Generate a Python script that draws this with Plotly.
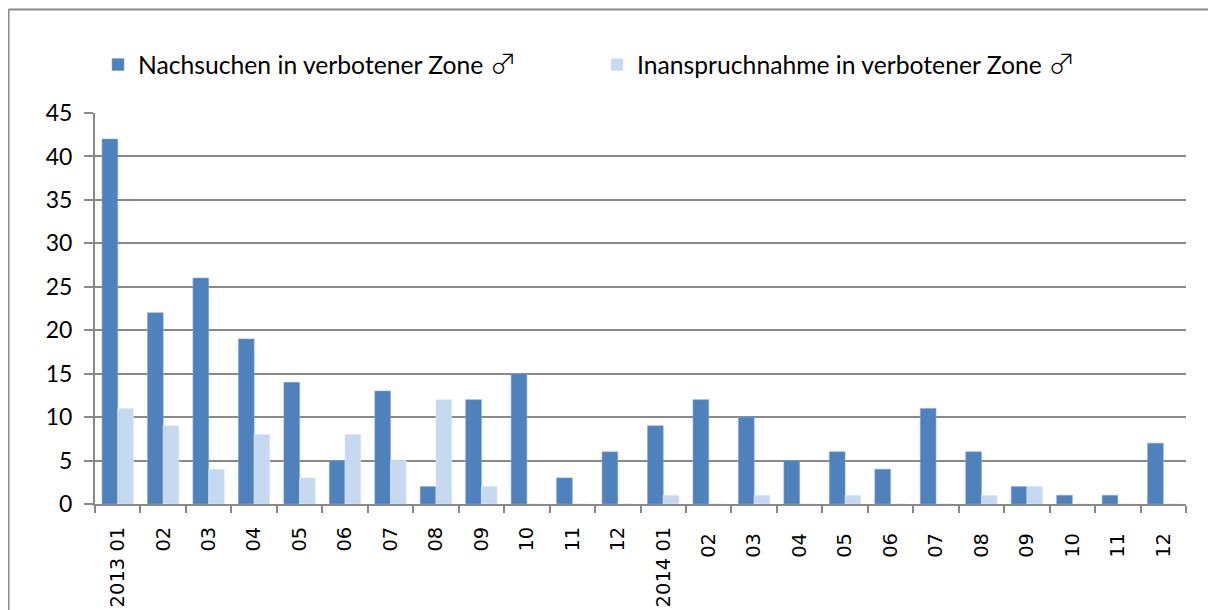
import plotly.graph_objects as go

categories = ["2013 01", "02", "03", "04", "05", "06", "07", "08", "09", "10", "11", "12",
              "2014 01", "02 ", "03 ", "04 ", "05 ", "06 ", "07 ", "08 ", "09 ", "10 ", "11 ", "12 "]
nachsuchen = [42, 22, 26, 19, 14, 5, 13, 2, 12, 15, 3, 6,
              9, 12, 10, 5, 6, 4, 11, 6, 2, 1, 1, 7]
inanspruchnahme = [11, 9, 4, 8, 3, 8, 5, 12, 2, 0, 0, 0,
                   1, 0, 1, 0, 1, 0, 0, 1, 2, 0, 0, 0]
MALE = '<span style="font-family:\'Noto Sans CJK JP\';font-weight:300;font-size:27px">\u2642</span>'
series_names = ["Nachsuchen in verbotener Zone " + MALE,
                "Inanspruchnahme in verbotener Zone " + MALE]
y_ticks = [0, 5, 10, 15, 20, 25, 30, 35, 40, 45]

DARK = "#4F81BD"
LIGHT = "#C6D9F1"
GRAY = "#898989"
FONT = "Lato"

# page body has an 8px margin, so the figure is 8px smaller in each direction
W, H = 1208, 602
ML, MR, MT, MB = 87, 30, 105, 106
pw = W - ML - MR
ph = H - MT - MB

def px_x(p):
    return (p - ML) / pw

def px_y(p):
    return (H - MB - p) / ph

fig = go.Figure()
fig.add_trace(go.Bar(x=categories, y=nachsuchen, name=series_names[0],
                     marker=dict(color=DARK, line=dict(width=0.6, color="#7FA3D0")),
                     legend="legend", showlegend=True))
fig.add_trace(go.Bar(x=categories, y=inanspruchnahme, name=series_names[1],
                     marker=dict(color=LIGHT, line=dict(width=0.6, color="#DCE7F6")),
                     legend="legend2", showlegend=True))

# outer chart frame (top and left edges visible)
fig.add_shape(type="line", xref="paper", yref="paper",
              x0=px_x(0.5), x1=px_x(1240), y0=px_y(1.5), y1=px_y(1.5),
              line=dict(color=GRAY, width=2))
fig.add_shape(type="line", xref="paper", yref="paper",
              x0=px_x(0.5), x1=px_x(0.5), y0=px_y(1.5), y1=px_y(640),
              line=dict(color=GRAY, width=2))

legend_common = dict(orientation="h", xref="container", yref="container",
                     xanchor="left", yanchor="middle",
                     font=dict(family=FONT, size=24.7, color="#000000"),
                     bgcolor="rgba(0,0,0,0)", borderwidth=0)

fig.update_layout(
    width=W, height=H, showlegend=True,
    margin=dict(l=ML, r=MR, t=MT, b=MB, autoexpand=False),
    paper_bgcolor="white", plot_bgcolor="white",
    barmode="group", bargap=0.31, bargroupgap=0,
    font=dict(family=FONT, color="#000000"),
    legend=dict(x=90 / W, y=1 - 57 / H, **legend_common),
    legend2=dict(x=589 / W, y=1 - 57 / H, **legend_common),
    xaxis=dict(
        type="category", categoryorder="array", categoryarray=categories,
        tickson="boundaries", ticks="outside", ticklen=7, tickcolor=GRAY, tickwidth=1.5,
        showline=True, linecolor=GRAY, linewidth=2, showgrid=False,
        tickangle=-90, tickfont=dict(family="DejaVu Sans", size=19.5, color="#000000"),
        ticklabelstandoff=13,
    ),
    yaxis=dict(
        range=[0, 45], tickvals=y_ticks, ticktext=[str(v) for v in y_ticks],
        showgrid=True, gridcolor=GRAY, gridwidth=1.6,
        showline=True, linecolor=GRAY, linewidth=2,
        ticks="outside", ticklen=9, tickcolor=GRAY, tickwidth=1.6,
        tickfont=dict(family=FONT, size=23, color="#000000"),
        ticklabelstandoff=7, zeroline=False,
    ),
)

fig.write_html("out.html")
